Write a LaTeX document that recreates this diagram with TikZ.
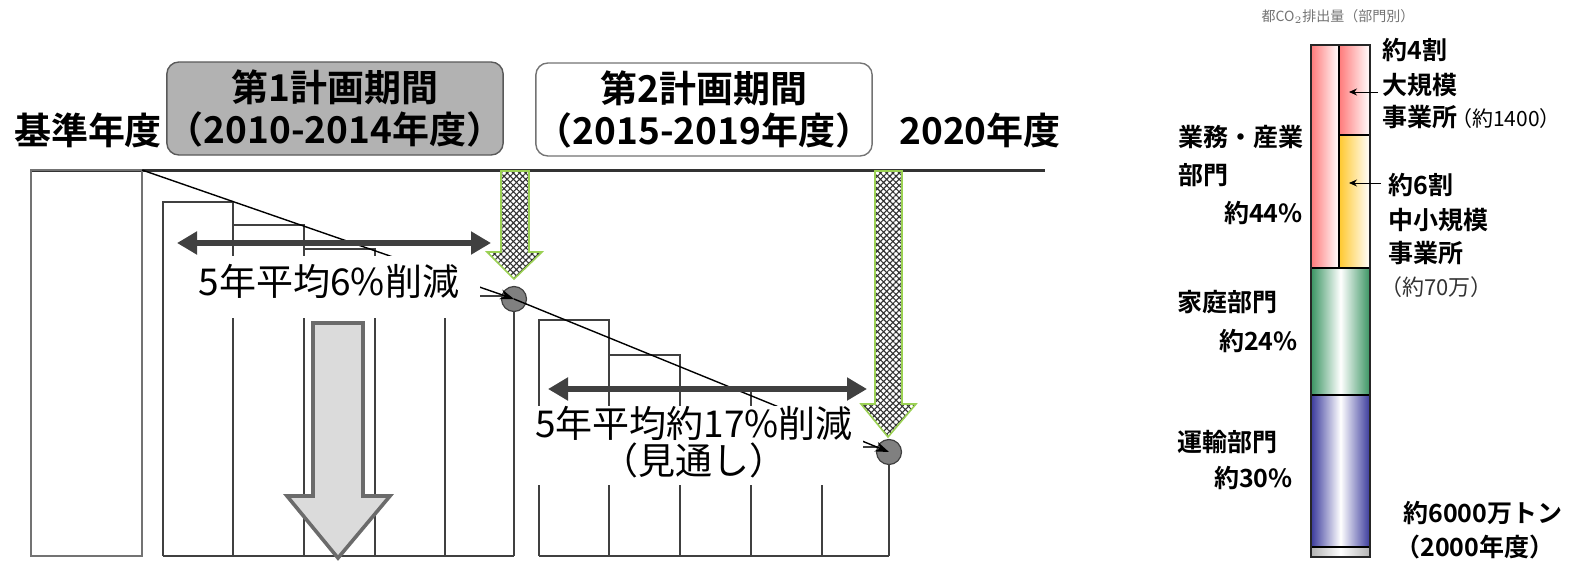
\documentclass[tikz,border=0pt]{standalone}
\usepackage{fontspec}
\setmainfont{Noto Sans CJK JP}[BoldFont={Noto Sans CJK JP Bold}]
\usetikzlibrary{arrows.meta,patterns.meta}
\definecolor{ln}{HTML}{404040}
\definecolor{boxgray}{HTML}{B2B2B2}
\definecolor{hgreen}{HTML}{9BD154}
\definecolor{cgray}{HTML}{808080}
\definecolor{redc}{HTML}{FF7A7A}
\definecolor{yelc}{HTML}{FFC82E}
\definecolor{grnc}{HTML}{3A9462}
\definecolor{bluc}{HTML}{3A3A9C}
\tikzset{
  barln/.style={draw=ln, line width=0.8pt},
  big/.style={font=\fontsize{18.5}{15}\selectfont, inner sep=0pt},
  bigb/.style={font=\bfseries\fontsize{18.5}{22}\selectfont, inner sep=0pt},
  rt/.style={font=\bfseries\fontsize{12.5}{15}\selectfont, inner sep=0pt, anchor=west},
  rtr/.style={font=\fontsize{11}{13}\selectfont, inner sep=0pt, anchor=west},
  dbl/.style={draw=ln, line width=3pt, {Triangle[length=10pt,width=11pt]}-{Triangle[length=10pt,width=11pt]}},
  hatch/.style={draw=hgreen, line width=0.8pt, preaction={fill=white}, pattern={Hatch[angle=45,distance=2.2pt,line width=0.55pt]}, pattern color=black!80},
  dot/.style={circle, fill=cgray, draw=ln, line width=0.6pt, minimum size=12.5pt, inner sep=0pt},
  titlebox/.style={rounded corners=6pt, line width=0.7pt, minimum width=158pt, minimum height=46.5pt, align=center, font=\bfseries\fontsize{18.5}{21}\selectfont, inner sep=0pt},
  sect/.style={draw=black, line width=0.6pt}
}
\begin{document}
\begin{tikzpicture}[x=0.5pt, y=-0.5pt]
\useasboundingbox (0,0) rectangle (1570,562);
% header texts
\node[bigb] (kijun) at (88,130) {基準年度};
\node[titlebox, fill=boxgray, draw=black!65] (p1) at (335,108.5) {第1計画期間\\（2010-2014年度）};
\node[titlebox, fill=white, draw=black!55, minimum width=164pt] (p2) at (704,109.5) {第2計画期間\\（2015-2019年度）};
\node[bigb] (y2020) at (980,130) {2020年度};
% top line
\draw[draw=black!80, line width=1.5pt] (31,170) -- (1045,170);
% base bar
\draw[draw=black!55, line width=0.9pt] (31,170) rectangle (142,556);
% period 1 bars
\draw[barln] (163,556) -- (163,202) -- (233,202) -- (233,556);
\draw[barln] (233,225) -- (304,225) -- (304,556);
\draw[barln] (304,249) -- (375,249) -- (375,556);
\draw[barln] (375,273) -- (445,273) -- (445,556);
\draw[barln] (445,296) -- (514,296);
\draw[barln] (163,556) -- (514,556);
% period 2 bars
\draw[barln] (539,556) -- (539,320) -- (609,320) -- (609,556);
\draw[barln] (609,355) -- (680,355) -- (680,556);
\draw[barln] (680,390) -- (751,390) -- (751,556);
\draw[barln] (751,424) -- (822,424) -- (822,556);
\draw[barln] (822,447) -- (889,447);
\draw[barln] (539,556) -- (889,556);
% circles
\node[dot] (c1) at (514,299) {};
\node[dot] (c2) at (889,452) {};
\draw[barln] (c1.south) -- (514,556);
\draw[barln] (c2.south) -- (889,556);
% diagonals
\coordinate (d0) at (142,170);
\draw[draw=black, line width=0.7pt, -{Stealth[length=7pt,width=5pt]}] (d0) -- (c1.center);
\draw[draw=black, line width=0.7pt, -{Stealth[length=7pt,width=5pt]}] (c1.center) -- (c2.center);
% masks and labels
\fill[white] (172,256) rectangle (480,318);
\node[big] (t1) at (329,281) {5年平均6\%削減};
\fill[white] (532,406) rectangle (863,485);
\node[big, align=center] (t2) at (694,442) {5年平均約17\%削減\\（見通し）};
% double arrows
\coordinate (a1l) at (177,243);
\coordinate (a1r) at (491,243);
\draw[dbl] (a1l) -- (a1r);
\coordinate (a2l) at (548,389);
\coordinate (a2r) at (867,389);
\draw[dbl] (a2l) -- (a2r);
% hatched arrows
\draw[hatch] (501,171) -- (529,171) -- (529,252) -- (542,252) -- (514,279) -- (487,252) -- (501,252) -- cycle;
\draw[hatch] (875,171) -- (902,171) -- (902,404) -- (916,404) -- (888,437) -- (861,404) -- (875,404) -- cycle;
% big gray arrow
\draw[fill=black!14, draw=black!58, line width=1.8pt, line join=miter] (313,323) -- (363,323) -- (363,496) -- (390,496) -- (338,558) -- (287,496) -- (313,496) -- cycle;

% ===== right chart =====
\node[font=\fontsize{7}{8}\selectfont, text=black!55, inner sep=0pt] (ttl) at (1338,17) {都CO$_2$排出量（部門別）};
\shade[left color=redc, right color=white] (1311,45) rectangle (1339,268);
\shade[left color=redc, right color=white] (1339,45) rectangle (1370,135);
\shade[left color=yelc, right color=white] (1339,135) rectangle (1370,268);
\shade[left color=grnc, right color=grnc, middle color=white] (1311,268) rectangle (1370,395);
\shade[left color=bluc, right color=bluc, middle color=white] (1311,395) rectangle (1370,547);
\shade[left color=black!30, right color=black!30, middle color=white] (1311,547) rectangle (1370,557);
\draw[sect] (1339,45) -- (1339,268);
\draw[sect] (1339,135) -- (1370,135);
\draw[sect] (1311,268) -- (1370,268);
\draw[sect] (1311,395) -- (1370,395);
\draw[sect] (1311,547) -- (1370,547);
\draw[draw=black!85, line width=1.1pt] (1311,45) rectangle (1370,557);
% right labels
\node[rt] (l4w) at (1382,50) {約4割};
\node[rt] (lbig) at (1382,85) {大規模};
\node[rt] (ljg1) at (1382,117) {事業所{\mdseries\fontsize{10.5}{13}\selectfont\kern-0.3em（約1400）}};
\node[rt] (l6w) at (1388,185) {約6割};
\node[rt] (lsm) at (1388,220) {中小規模};
\node[rt] (ljg2) at (1388,253) {事業所};
\node[rtr, text=black!80] (l70) at (1380,287) {（約70万）};
\coordinate (ar1s) at (1378,92);
\coordinate (ar1e) at (1349,92);
\coordinate (ar2s) at (1381,183);
\coordinate (ar2e) at (1349,183);
\draw[black, line width=0.5pt, -{Stealth[length=4pt,width=3.5pt]}] (ar1s) -- (ar1e);
\draw[black, line width=0.5pt, -{Stealth[length=4pt,width=3.5pt]}] (ar2s) -- (ar2e);
\node[rt] (lgs) at (1178,137) {業務・産業};
\node[rt] (lgs2) at (1178,175) {部門};
\node[rt, anchor=east] (l44) at (1303,213) {約44\%};
\node[rt] (lkt) at (1177,302) {家庭部門};
\node[rt, anchor=east] (l24) at (1298,341) {約24\%};
\node[rt] (lun) at (1177,442) {運輸部門};
\node[rt, anchor=east] (l30) at (1293,478) {約30\%};
\node[rt] (ltot) at (1403,513) {約6000万トン};
\node[rt] (lyr) at (1395,547) {（2000年度）};
\end{tikzpicture}
\end{document}
